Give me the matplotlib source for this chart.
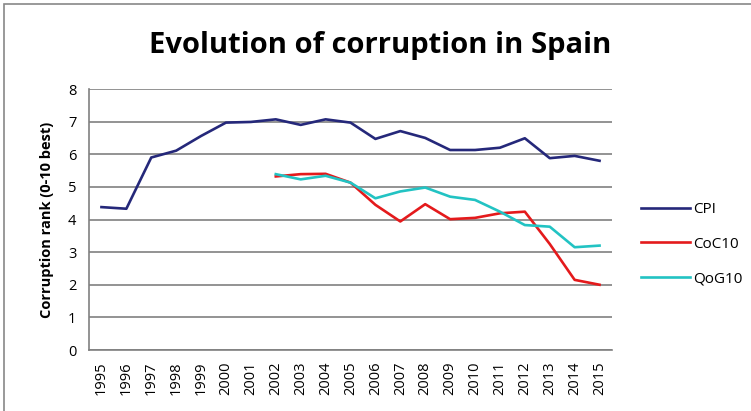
import matplotlib
matplotlib.use("Agg")
import matplotlib.pyplot as plt
from matplotlib.patches import Rectangle
import numpy as np

years = [str(y) for y in range(1995, 2016)]
cpi = [4.38, 4.33, 5.90, 6.11, 6.56, 6.97, 6.99, 7.07, 6.90, 7.07, 6.97, 6.47, 6.71, 6.50, 6.13, 6.13, 6.20, 6.49, 5.88, 5.95, 5.80]
coc10 = [None]*7 + [5.32, 5.39, 5.40, 5.13, 4.45, 3.94, 4.47, 4.01, 4.05, 4.19, 4.24, 3.25, 2.15, 2.00]
qog10 = [None]*7 + [5.39, 5.23, 5.34, 5.13, 4.65, 4.86, 4.98, 4.70, 4.60, 4.24, 3.83, 3.78, 3.15, 3.20]
series_names = ["CPI", "CoC10", "QoG10"]
colors = ["#25287A", "#E41A1C", "#22C3C3"]

W, H = 751, 411
fig = plt.figure(figsize=(W/100, H/100), dpi=100)
fig.patches.append(Rectangle((4/W, -0.1), 1.2, (H-4)/H + 0.1, transform=fig.transFigure,
                             fill=False, edgecolor="#888888", linewidth=1.2))

ax = fig.add_axes([89/W, 1-350/H, (612-89)/W, (350-89)/H])
x = np.arange(len(years))

def to_arr(v):
    return np.array([np.nan if a is None else a for a in v], dtype=float)

for name, vals, c in zip(series_names, [cpi, coc10, qog10], colors):
    ax.plot(x, to_arr(vals), color=c, linewidth=1.9, label=name, solid_joinstyle="round")

ax.set_xlim(-0.5, len(years)-0.5)
ax.set_ylim(0, 8)
ax.set_yticks(range(0, 9))
ax.set_xticks(x)
ax.set_xticklabels(years, rotation=90, fontsize=10.5, family="Open Sans")
for lab in ax.get_yticklabels():
    lab.set_fontsize(10.5)
    lab.set_family("Open Sans")
ax.tick_params(length=0, pad=9)
ax.tick_params(axis="x", pad=8)
ax.grid(axis="y", color="#808080", linewidth=1.2)
ax.set_axisbelow(True)
for s in ["top", "right"]:
    ax.spines[s].set_visible(False)
for s in ["left", "bottom"]:
    ax.spines[s].set_color("#808080")
    ax.spines[s].set_linewidth(1.2)

ax.set_ylabel("Corruption rank (0-10 best)", fontsize=10.5, fontweight="bold", family="Open Sans", labelpad=10)

fig.text(380/W, 1-46/H, "Evolution of corruption in Spain", ha="center", va="center",
         fontsize=21, fontweight="bold", family="Open Sans")

leg = ax.legend(loc="center left", bbox_to_anchor=(1.03, 0.405), frameon=False,
                prop={"family": "Open Sans", "size": 11}, handlelength=3.2,
                labelspacing=1.3, handletextpad=0.2)

fig.savefig("out.png", dpi=100)
